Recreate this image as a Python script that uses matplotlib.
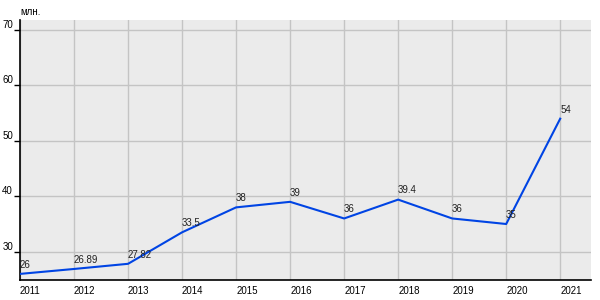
import matplotlib
matplotlib.use("Agg")
import matplotlib.pyplot as plt

years = [2011, 2012, 2013, 2014, 2015, 2016, 2017, 2018, 2019, 2020, 2021]
values = [26, 26.89, 27.82, 33.5, 38, 39, 36, 39.4, 36, 35, 54]
labels = ["26", "26.89", "27.82", "33.5", "38", "39", "36", "39.4", "36", "35", "54"]
yticks = [30, 40, 50, 60, 70]

plt.rcParams['font.family'] = ['Liberation Sans', 'DejaVu Sans']

fig = plt.figure(figsize=(6, 3), dpi=100)
ax = fig.add_axes([20/600, 20/300, 571/600, 260/300])
ax.set_facecolor("#ebebeb")

ax.plot(years, values, color="#0044e4", lw=1.5, zorder=3)
for x, y, t in zip(years, values, labels):
    ax.annotate(t, (x, y), xytext=(0, 3), textcoords="offset points",
                fontsize=7, color="#222222", ha="left", va="bottom", zorder=4)

ax.set_xlim(2011, 2021.57)
ax.set_ylim(24.9, 71.8)
ax.set_xticks(years)
ax.set_yticks(yticks)
ax.grid(True, color="#c4c4c4", lw=1)
ax.set_axisbelow(True)

for s in ["top", "right"]:
    ax.spines[s].set_visible(False)
ax.spines["left"].set_linewidth(1.2)
ax.spines["bottom"].set_linewidth(1.2)
ax.tick_params(axis="y", length=4, width=1, labelsize=7, pad=1)
ax.tick_params(axis="x", length=0, labelsize=7, pad=4)
for lab in ax.get_xticklabels():
    lab.set_horizontalalignment("left")
for lab in ax.get_yticklabels():
    lab.set_verticalalignment("bottom")

fig.text(20/600, 1 - 12/300, "млн.", fontsize=7, va="center", ha="left")

fig.savefig("out.png", dpi=100)
